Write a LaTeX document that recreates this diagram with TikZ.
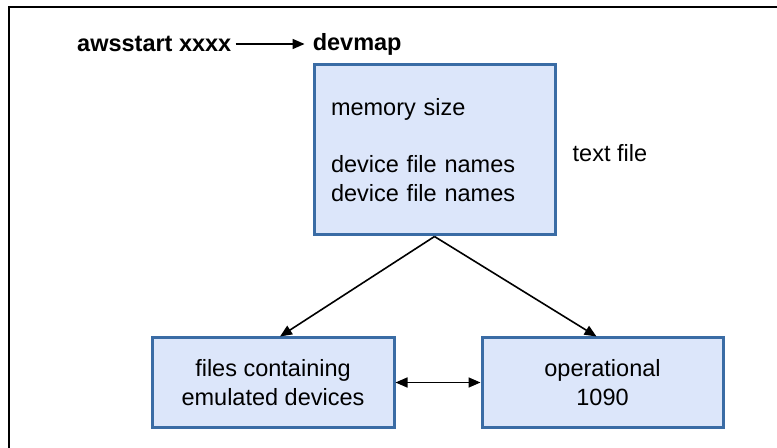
\documentclass[tikz,border=0pt]{standalone}
\usepackage{fontspec}
\setmainfont{Liberation Sans}
\usetikzlibrary{positioning, arrows.meta, calc}

\begin{document}
\begin{tikzpicture}[x=1bp,y=-1bp,node distance=16bp,
		every node/.style={font=\fontsize{23.5bp}{28.5bp}\selectfont},
		box/.style={draw={rgb,255:red,58;green,108;blue,165},fill={rgb,255:red,220;green,230;blue,250},line width=3bp,align=center,inner sep=0pt},
		plain/.style={inner sep=0pt},
		tip/.style={-{Triangle[length=12bp,width=10bp]},line width=1.6bp}]
			\useasboundingbox (0,0) rectangle (777,448);
			\draw[line width=1.6bp] (9,448) -- (9,7) -- (777,7);
			\node[plain,anchor=west,font=\fontsize{23.5bp}{28.5bp}\selectfont\bfseries] (start) at (77,44) {awsstart xxxx};
			\node[plain,font=\fontsize{23.5bp}{28.5bp}\selectfont\bfseries] (devmap) [right=81bp of start] {devmap};
			\node[box,align=left,text width=207bp,inner xsep=17bp,minimum height=170bp] (devbox) at (434.5,150) {memory size\\[28.5bp]device file names\\device file names};
			\node[plain,yshift=-3bp] (textfile) [right=16bp of devbox] {text file};
			\node[box,minimum width=242bp,minimum height=89bp] (files) at (273,382.5) {files containing\\emulated devices};
			\node[box,minimum width=241bp,minimum height=89bp] (oper) [right=85bp of files] {operational\\1090};
			\path[tip] (start) edge[shorten <=4bp,shorten >=8bp] (devmap)
						(devbox.south) edge ($(files.north)+(7bp,0)$)
						(devbox.south) edge ($(oper.north)+(-6bp,0)$);
			\draw[tip,{Triangle[length=12bp,width=10bp]}-{Triangle[length=12bp,width=10bp]}] (files) -- (oper);
	\end{tikzpicture}
\end{document}
